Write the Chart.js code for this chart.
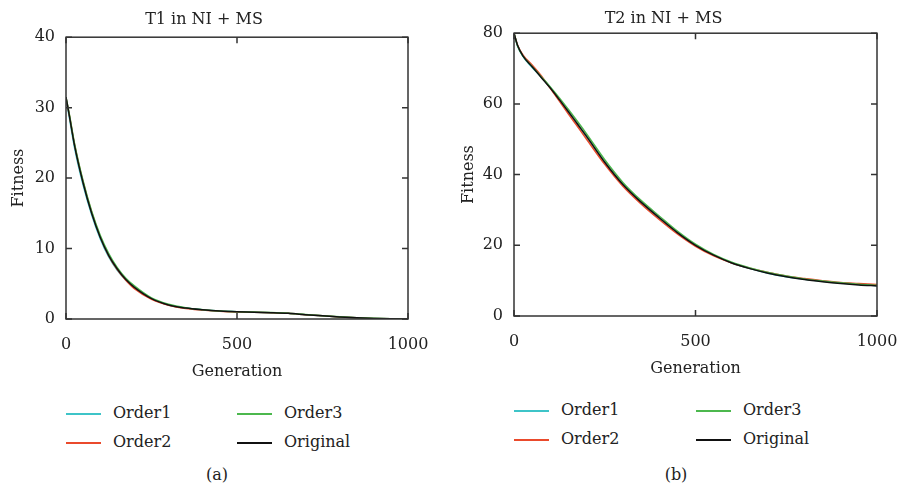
<!DOCTYPE html>
<html lang="en">
<head>
    <meta charset="UTF-8">
    <title>Fitness vs Generation</title>
    <script src="https://cdn.jsdelivr.net/npm/chart.js"></script>
    <style>
        body {
            margin: 0;
            width: 900px;
            height: 494px;
            background: #fff;
            position: relative;
            overflow: hidden;
            font-family: "DejaVu Serif", "Liberation Serif", serif;
            color: #222;
        }
        .box { position: absolute; top: 0; height: 392px; }
        #boxA { left: 0; width: 474px; }
        #boxB { left: 450px; width: 491px; }
        .legend { position: absolute; font-size: 16px; }
        .item { position: absolute; white-space: nowrap; line-height: 20px; }
        .item span.swatch {
            position: absolute; left: 0; top: 10px; width: 35px; height: 2px;
            background: #000;
        }
        .item span.label { position: absolute; left: 47px; top: 0; }
        .caption { position: absolute; top: 465px; font-size: 16px; transform: translateX(-50%); }
    </style>
</head>
<body>
    <div class="box" id="boxA"><canvas id="chartA"></canvas></div>
    <div class="box" id="boxB"><canvas id="chartB"></canvas></div>
    <div id="legendA"></div>
    <div id="legendB"></div>
    <div class="caption" style="left:217px">(a)</div>
    <div class="caption" style="left:676px">(b)</div>

    <script>
        const generations = [0, 10, 25, 50, 75, 100, 125, 150, 175, 200, 250, 300, 350, 400, 450, 500, 550, 600, 650, 700, 750, 800, 850, 900, 950, 1000];

        const seriesNames = ['Order1', 'Order2', 'Order3', 'Original'];
        const seriesColors = ['#3ec4c8', '#ea4a2c', '#4cb84e', '#111111'];

        // T1 in NI + MS
        const t1Order1   = [31.3, 28.5, 24.3, 19.0, 14.8, 11.4, 8.8, 6.9, 5.5, 4.4, 2.9, 2.0, 1.55, 1.3, 1.12, 1.02, 0.97, 0.9, 0.8, 0.62, 0.45, 0.3, 0.18, 0.08, 0.02, 0];
        const t1Order2   = [31.4, 28.9, 24.8, 19.5, 15.2, 11.7, 9.0, 7.0, 5.5, 4.3, 2.8, 1.95, 1.5, 1.28, 1.1, 1.0, 0.96, 0.9, 0.8, 0.62, 0.45, 0.3, 0.18, 0.08, 0.02, 0];
        const t1Order3   = [31.5, 29.0, 24.9, 19.6, 15.3, 11.9, 9.3, 7.3, 5.8, 4.7, 3.0, 2.1, 1.6, 1.32, 1.14, 1.03, 0.98, 0.92, 0.82, 0.64, 0.47, 0.31, 0.19, 0.09, 0.03, 0];
        const t1Original = [31.5, 28.8, 24.6, 19.3, 15.0, 11.6, 9.0, 7.1, 5.6, 4.5, 2.9, 2.0, 1.55, 1.3, 1.12, 1.02, 0.97, 0.9, 0.8, 0.62, 0.45, 0.3, 0.18, 0.08, 0.02, 0];

        // T2 in NI + MS
        const t2Order1   = [80, 76.3, 73.4, 70.3, 67.6, 64.6, 61.0, 57.5, 54.0, 50.6, 43.4, 37.1, 32.1, 27.7, 23.6, 20.0, 17.2, 15.0, 13.4, 12.1, 11.1, 10.4, 9.8, 9.3, 8.9, 8.6];
        const t2Order2   = [80, 76.6, 73.8, 71.0, 68.0, 64.4, 60.8, 57.1, 53.6, 50.0, 42.9, 36.7, 31.7, 27.3, 23.2, 19.7, 17.0, 15.0, 13.5, 12.3, 11.3, 10.6, 10.0, 9.5, 9.2, 8.9];
        const t2Order3   = [80, 76.4, 73.5, 70.6, 67.7, 64.8, 61.7, 58.4, 55.0, 51.5, 44.2, 37.8, 32.7, 28.3, 24.0, 20.3, 17.4, 15.2, 13.6, 12.3, 11.3, 10.5, 9.9, 9.4, 9.0, 8.7];
        const t2Original = [80, 76.5, 73.5, 70.5, 67.5, 64.5, 61.2, 57.8, 54.3, 50.8, 43.5, 37.2, 32.2, 27.8, 23.6, 20.0, 17.2, 15.0, 13.4, 12.1, 11.1, 10.3, 9.7, 9.2, 8.8, 8.5];

        const xTicks = [0, 500, 1000];

        const serif = '"DejaVu Serif", "Liberation Serif", serif';
        const axisColor = '#333';

        // frame box and inward ticks on all four sides
        const framePlugin = {
            id: 'frame',
            afterDatasetsDraw(chart) {
                const { ctx, chartArea: a, scales } = chart;
                ctx.save();
                ctx.strokeStyle = axisColor;
                ctx.lineWidth = 1.5;
                ctx.strokeRect(a.left, a.top, a.right - a.left, a.bottom - a.top);
                const len = 6;
                scales.x.ticks.forEach(t => {
                    const px = scales.x.getPixelForValue(t.value);
                    ctx.beginPath();
                    ctx.moveTo(px, a.bottom); ctx.lineTo(px, a.bottom - len);
                    ctx.moveTo(px, a.top); ctx.lineTo(px, a.top + len);
                    ctx.stroke();
                });
                scales.y.ticks.forEach(t => {
                    const py = scales.y.getPixelForValue(t.value);
                    ctx.beginPath();
                    ctx.moveTo(a.left, py); ctx.lineTo(a.left + len, py);
                    ctx.moveTo(a.right, py); ctx.lineTo(a.right - len, py);
                    ctx.stroke();
                });
                ctx.restore();
            }
        };

        function makeChart(id, title, series, yMax, yStep, yWidth, pad, titleGap) {
            const datasets = series.map((values, i) => ({
                label: seriesNames[i],
                data: generations.map((g, j) => ({ x: g, y: values[j] })),
                borderColor: seriesColors[i],
                borderWidth: 1.5,
                pointRadius: 0,
                fill: false,
                order: series.length - 1 - i,
                cubicInterpolationMode: 'monotone'
            }));
            return new Chart(document.getElementById(id), {
                type: 'line',
                data: { datasets },
                options: {
                    responsive: true,
                    maintainAspectRatio: false,
                    animation: false,
                    layout: { padding: pad },
                    plugins: {
                        legend: { display: false },
                        tooltip: { enabled: false },
                        title: {
                            display: true,
                            text: title,
                            color: '#222',
                            font: { family: serif, size: 16, weight: 'normal' },
                            padding: { top: 0, bottom: titleGap }
                        }
                    },
                    scales: {
                        x: {
                            type: 'linear',
                            min: 0, max: 1000,
                            afterBuildTicks: s => { s.ticks = xTicks.map(v => ({ value: v })); },
                            afterFit: s => { s.height = 62; },
                            grid: { display: false, drawTicks: false },
                            border: { display: false },
                            ticks: { color: '#222', font: { family: serif, size: 16 }, padding: 16, maxRotation: 0, callback: v => String(v) },
                            title: { display: true, text: 'Generation', color: '#222', font: { family: serif, size: 16 }, padding: { top: 0, bottom: 0 } }
                        },
                        y: {
                            min: 0, max: yMax,
                            afterFit: s => { s.width = yWidth; },
                            ticks: { stepSize: yStep, color: '#222', font: { family: serif, size: 16 }, padding: 11 },
                            grid: { display: false, drawTicks: false },
                            border: { display: false },
                            title: { display: true, text: 'Fitness', color: '#222', font: { family: serif, size: 16 }, padding: { top: 9, bottom: 0 } }
                        }
                    }
                },
                plugins: [framePlugin]
            });
        }

        makeChart('chartA', 'T1 in NI + MS', [t1Order1, t1Order2, t1Order3, t1Original], 40, 10, 66,
            { top: 10, right: 66, left: 0, bottom: 11 }, 8);
        makeChart('chartB', 'T2 in NI + MS', [t2Order1, t2Order2, t2Order3, t2Original], 80, 20, 64,
            { top: 9, right: 64, left: 0, bottom: 14 }, 5);

        // two-column legends under each chart
        function buildLegend(id, cols, rows) {
            const el = document.getElementById(id);
            el.className = 'legend';
            seriesNames.forEach((name, i) => {
                const col = i < 2 ? 0 : 1;
                const row = i % 2;
                const item = document.createElement('div');
                item.className = 'item';
                item.style.left = cols[col] + 'px';
                item.style.top = rows[row] + 'px';
                const sw = document.createElement('span');
                sw.className = 'swatch';
                sw.style.background = seriesColors[i];
                const lb = document.createElement('span');
                lb.className = 'label';
                lb.textContent = name;
                item.appendChild(sw);
                item.appendChild(lb);
                el.appendChild(item);
            });
        }
        buildLegend('legendA', [66, 237], [403, 432]);
        buildLegend('legendB', [514, 696], [400, 429]);
    </script>
</body>
</html>
